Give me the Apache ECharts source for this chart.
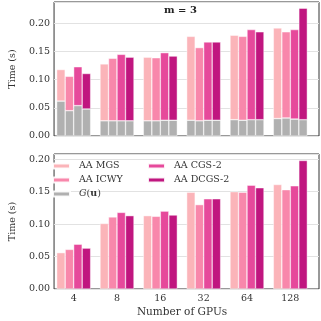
<!DOCTYPE html>
<html><head><meta charset="utf-8">
<script src="https://cdn.jsdelivr.net/npm/echarts@6/dist/echarts.min.js"></script>
<style>html,body{margin:0;padding:0;background:#fff}#c{width:321px;height:321px}</style>
</head><body><div id="c"></div>
<script>
const categories = ['4', '8', '16', '32', '64', '128'];
const methods = ['AA MGS', 'AA ICWY', 'AA CGS-2', 'AA DCGS-2'];
// AA portion (s)
const aaMGS   = [0.056, 0.101, 0.113, 0.149, 0.150, 0.161];
const aaICWY  = [0.061, 0.111, 0.112, 0.130, 0.149, 0.153];
const aaCGS2  = [0.069, 0.118, 0.120, 0.139, 0.160, 0.159];
const aaDCGS2 = [0.063, 0.113, 0.114, 0.139, 0.156, 0.198];
// G(u) portion (s), top panel base
const guMGS   = [0.062, 0.027, 0.027, 0.028, 0.029, 0.031];
const guICWY  = [0.045, 0.027, 0.027, 0.027, 0.028, 0.032];
const guCGS2  = [0.054, 0.027, 0.028, 0.028, 0.029, 0.030];
const guDCGS2 = [0.048, 0.027, 0.028, 0.028, 0.029, 0.029];

const aaData = [aaMGS, aaICWY, aaCGS2, aaDCGS2];
const guData = [guMGS, guICWY, guCGS2, guDCGS2];
const colors = ['#fbb4b9', '#f887ab', '#e6499b', '#c0167f'];
const gray = '#b0b0b0';
const FF = 'DejaVu Serif';
const txt = '#333';
const topMax = 0.238, botMax = 0.208;

const chart = echarts.init(document.getElementById('c'), null, {renderer: 'canvas'});

function frameY(gi, max) {
  return {
    gridIndex: gi, type: 'value', min: 0, max: max, interval: 0.05,
    axisLine: {show: false}, axisTick: {show: false},
    splitLine: {lineStyle: {color: '#e2e2e2', width: 1}},
    axisLabel: {fontFamily: FF, fontSize: 9.5, color: txt, margin: 4, showMaxLabel: false,
      formatter: v => v.toFixed(2)},
    name: 'Time (s)', nameLocation: 'middle', nameGap: 30, nameRotate: 90,
    nameTextStyle: {fontFamily: FF, fontSize: 9.5, color: txt}
  };
}
function dataY(gi, max) {
  return {gridIndex: gi, type: 'value', min: 0, max: max, show: false, splitLine: {show: false}};
}

const series = [];
const bs = {barWidth: 8.5, barGap: '0%', itemStyle: {borderColor: 'rgba(255,255,255,0.9)', borderWidth: 0.5}};
for (let i = 0; i < 4; i++) {
  series.push(Object.assign({}, bs, {
    type: 'bar', name: 'G(u)', xAxisIndex: 1, yAxisIndex: 1, stack: 's' + i,
    data: guData[i], itemStyle: Object.assign({}, bs.itemStyle, {color: gray})
  }));
  series.push(Object.assign({}, bs, {
    type: 'bar', name: methods[i], xAxisIndex: 1, yAxisIndex: 1, stack: 's' + i,
    data: aaData[i], itemStyle: Object.assign({}, bs.itemStyle, {color: colors[i]})
  }));
}
for (let i = 0; i < 4; i++) {
  series.push(Object.assign({}, bs, {
    type: 'bar', name: methods[i], xAxisIndex: 3, yAxisIndex: 3,
    data: aaData[i], itemStyle: Object.assign({}, bs.itemStyle, {color: colors[i]})
  }));
}

const legendText = {fontFamily: FF, fontSize: 9.5, color: txt, padding: [0, 0, 0, 4],
  rich: {i: {fontFamily: FF, fontSize: 9.5, fontStyle: 'italic', color: txt},
         b: {fontFamily: FF, fontSize: 9.5, fontWeight: 'bold', color: txt}}};
const legendFmt = n => n === 'G(u)' ? '{i|G}({b|u})' : n;

chart.setOption({
  animation: false,
  title: {text: 'm = 3', left: 164, top: 5, padding: 0,
    textStyle: {fontFamily: FF, fontSize: 10, fontWeight: 'bold', color: '#222'}},
  legend: [
    {data: ['AA MGS', 'AA ICWY', 'G(u)'], orient: 'vertical', left: 52, top: 161, padding: 0,
     itemWidth: 17, itemHeight: 5, itemGap: 4, icon: 'rect', textStyle: legendText, formatter: legendFmt},
    {data: ['AA CGS-2', 'AA DCGS-2'], orient: 'vertical', left: 147, top: 161, padding: 0,
     itemWidth: 17, itemHeight: 5, itemGap: 4, icon: 'rect', textStyle: legendText, formatter: legendFmt}
  ],
  grid: [
    {left: 43, right: 2, top: 2, height: 134, show: true, borderColor: '#333', borderWidth: 1, backgroundColor: 'transparent'},
    {left: 52, right: 9, top: 2, height: 134},
    {left: 43, right: 2, top: 154, height: 135, show: true, borderColor: '#333', borderWidth: 1, backgroundColor: 'transparent'},
    {left: 52, right: 9, top: 154, height: 135}
  ],
  xAxis: [
    {gridIndex: 0, type: 'value', show: false},
    {gridIndex: 1, type: 'category', data: categories, axisLine: {show: false}, axisTick: {show: false}, axisLabel: {show: false}},
    {gridIndex: 2, type: 'value', show: false},
    {gridIndex: 3, type: 'category', data: categories, axisLine: {show: false}, axisTick: {show: false},
     axisLabel: {fontFamily: FF, fontSize: 9.5, color: txt, margin: 5},
     name: 'Number of GPUs', nameLocation: 'middle', nameGap: 18,
     nameTextStyle: {fontFamily: FF, fontSize: 10.5, color: txt}}
  ],
  yAxis: [frameY(0, topMax), dataY(1, topMax), frameY(2, botMax), dataY(3, botMax)],
  series: series
});
</script></body></html>
